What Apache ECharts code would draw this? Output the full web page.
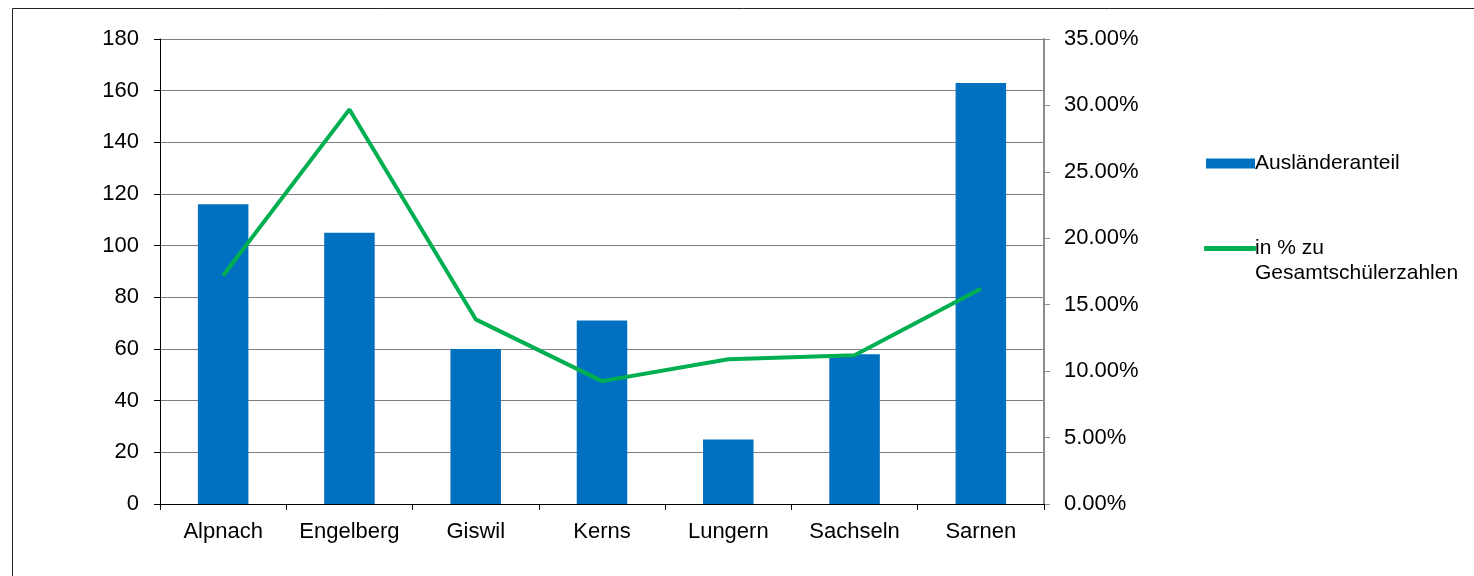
<!DOCTYPE html>
<html>
<head>
<meta charset="utf-8">
<script src="https://cdn.jsdelivr.net/npm/echarts@6/dist/echarts.min.js"></script>
<style>
html,body{margin:0;padding:0;background:#fff;}
#chart{width:1474px;height:576px;}
</style>
</head>
<body>
<div id="chart"></div>
<script>
const categories = ['Alpnach', 'Engelberg', 'Giswil', 'Kerns', 'Lungern', 'Sachseln', 'Sarnen'];
const barValues = [116, 105, 60, 71, 25, 58, 163];
const percentValues = [17.2, 29.7, 13.9, 9.25, 10.9, 11.2, 16.2];
const barName = 'Ausländeranteil';
const lineName = 'in % zu Gesamtschülerzahlen';

const FONT = '"Liberation Sans", Arial, sans-serif';
const chart = echarts.init(document.getElementById('chart'));
chart.setOption({
  animation: false,
  backgroundColor: '#fff',
  textStyle: { fontFamily: FONT, color: '#000' },
  graphic: [{
    type: 'rect',
    shape: { x: 12.5, y: 8.5, width: 1500, height: 600 },
    style: { fill: 'none', stroke: '#222', lineWidth: 1 },
    silent: true
  }],
  grid: { left: 160, right: 430, top: 39, bottom: 72, containLabel: false },
  legend: [{
    orient: 'vertical', left: 1201, top: 148,
    data: [{ name: barName, icon: 'rect' }], itemWidth: 49, itemHeight: 10, itemGap: 0,
    textStyle: { fontFamily: FONT, fontSize: 21, color: '#000', padding: [0, 0, 0, -5] },
    selectedMode: false
  }, {
    orient: 'vertical', left: 1199, top: 206,
    data: [{ name: lineName, icon: 'roundRect' }], itemWidth: 52, itemHeight: 5, itemGap: 0,
    itemStyle: { color: '#00B050' },
    formatter: () => '\nin % zu\nGesamtschülerzahlen',
    textStyle: { fontFamily: FONT, fontSize: 21, color: '#000', lineHeight: 25, padding: [0, 0, 0, -6] },
    selectedMode: false
  }],
  xAxis: {
    type: 'category', data: categories, boundaryGap: true,
    axisLine: { show: true, lineStyle: { color: '#000', width: 1 } },
    axisTick: { show: true, interval: 0, length: 6, lineStyle: { color: '#000' } },
    axisLabel: { interval: 0, hideOverlap: false, fontFamily: FONT, fontSize: 22, color: '#000', margin: 17 }
  },
  yAxis: [{
    type: 'value', min: 0, max: 180, interval: 20, position: 'left',
    axisLine: { show: true, lineStyle: { color: '#000', width: 1 } },
    axisTick: { show: true, length: 6, lineStyle: { color: '#000' } },
    axisLabel: { fontFamily: FONT, fontSize: 22, color: '#000', margin: 21 },
    splitLine: { show: true, lineStyle: { color: '#7f7f7f', width: 1 } }
  }, {
    type: 'value', min: 0, max: 35, interval: 5, position: 'right',
    axisLine: { show: true, lineStyle: { color: '#8c8c8c', width: 2 } },
    axisTick: { show: true, length: 6, lineStyle: { color: '#8c8c8c' } },
    axisLabel: { fontFamily: FONT, fontSize: 22, color: '#000', margin: 20,
      formatter: v => v.toFixed(2) + '%' },
    splitLine: { show: false }
  }],
  series: [{
    name: barName, type: 'bar', data: barValues, yAxisIndex: 0,
    barWidth: '40%', itemStyle: { color: '#0070C0' }
  }, {
    name: lineName, type: 'line', data: percentValues, yAxisIndex: 1,
    symbol: 'none', lineStyle: { color: '#00B050', width: 4 },
    itemStyle: { color: '#00B050' }
  }]
});
</script>
</body>
</html>
